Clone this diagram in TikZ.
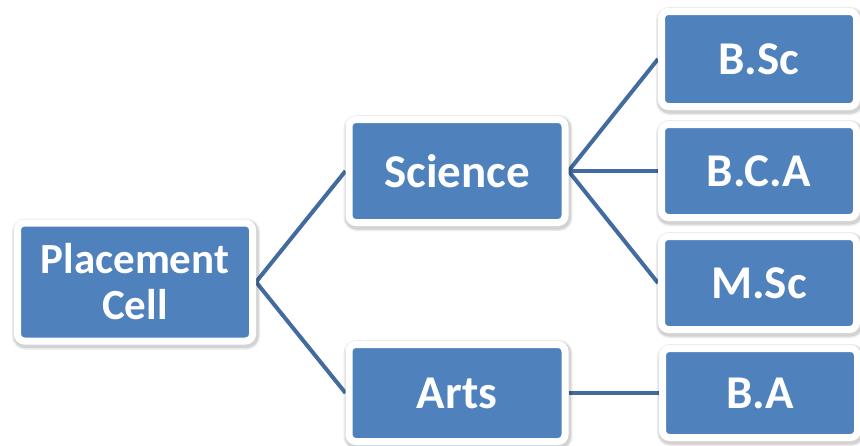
\documentclass[tikz,border=0pt]{standalone}
\usepackage{fontspec}
\setmainfont{Carlito}
\usetikzlibrary{backgrounds}
\definecolor{boxblue}{HTML}{4F81BD}
\definecolor{linkblue}{HTML}{426B9F}
\begin{document}
\begin{tikzpicture}[x=1pt,y=-1pt,
  box/.style={draw=white, line width=7pt, fill=boxblue, rounded corners=7pt,
    text=white, font=\bfseries\fontsize{47}{52}\selectfont, align=center,
    inner sep=0pt,
    preaction={draw=black, draw opacity=0.08, line width=13pt, transform canvas={shift={(1pt,-2pt)}}},
    preaction={draw=black, draw opacity=0.10, line width=10pt, transform canvas={shift={(1pt,-2pt)}}}},
  link/.style={draw=linkblue, line width=4pt}]
\useasboundingbox (0,0) rectangle (860,445);
\node[box, minimum width=235pt, minimum height=118pt, font=\bfseries\fontsize{43}{46}\selectfont] (pc) at (135,282) {Placement\\Cell};
\node[box, minimum width=216pt, minimum height=103pt] (sci) at (457,171) {Science};
\node[box, minimum width=216pt, minimum height=97pt] (arts) at (457,393) {Arts};
\node[box, minimum width=195pt, minimum height=95pt] (bsc) at (759,59) {B.Sc};
\node[box, minimum width=195pt, minimum height=93pt] (bca) at (759,171) {B.C.A};
\node[box, minimum width=195pt, minimum height=93pt] (msc) at (759,283) {M.Sc};
\node[box, minimum width=195pt, minimum height=89pt] (ba) at (760,393) {B.A};
\begin{scope}[on background layer]
\draw[link] (pc.east) -- (sci.west);
\draw[link] (pc.east) -- (arts.west);
\draw[link] (sci.east) -- (bsc.west);
\draw[link] (sci.east) -- (bca.west);
\draw[link] (sci.east) -- (msc.west);
\draw[link] (arts.east) -- (ba.west);
\end{scope}
\end{tikzpicture}
\end{document}
